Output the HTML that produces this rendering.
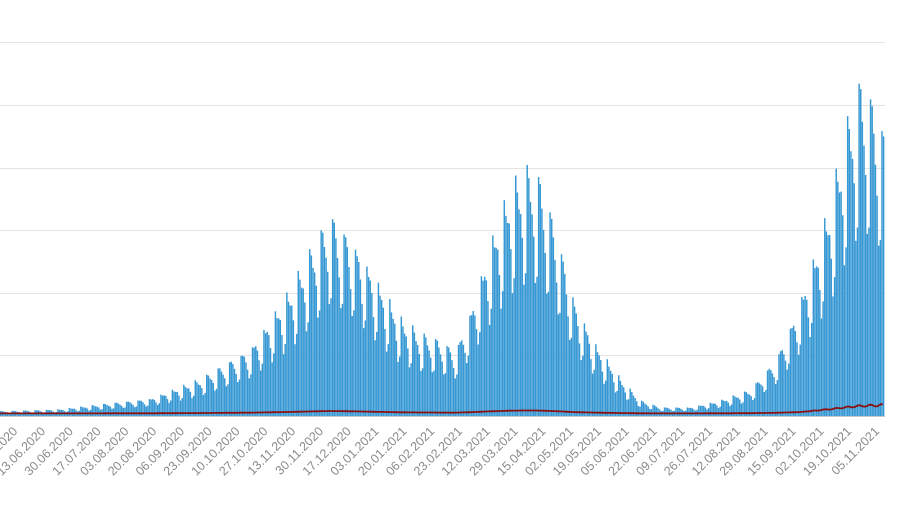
<!DOCTYPE html>
<html><head><meta charset="utf-8"><style>
html,body{margin:0;padding:0;background:#fff;}
svg{display:block;}
text{font-family:"Liberation Sans",sans-serif;font-size:12.5px;fill:#8a8a8a;}
</style></head><body>
<svg id="c" width="900" height="505" viewBox="0 0 900 505" xmlns="http://www.w3.org/2000/svg">
<g id="grid" stroke="#e3e3e3" stroke-width="1"></g>
<g id="bars" fill="#3597d3"></g>
<polyline id="red" fill="none" stroke="#8b1010" stroke-width="1.8"/>
<line x1="0" y1="416.5" x2="885" y2="416.5" stroke="#c9c9c9"/>
<g id="labels"></g>
</svg>
<script>
var ns="http://www.w3.org/2000/svg";
function el(t,a,p){var e=document.createElementNS(ns,t);for(var k in a)e.setAttribute(k,a[k]);p.appendChild(e);return e;}
var g=document.getElementById("grid");
[42,105,168,230,293,355].forEach(function(y){el("line",{x1:0,x2:885,y1:y+.5,y2:y+.5},g);});
var env=[[0,5],[60,7],[100,12],[150,18],[200,38],[250,70],[290,130],[315,180],[330,208],[350,185],[375,142],[400,100],[420,85],[440,78],[455,68],[470,108],[490,178],[510,235],[527,254],[540,244],[555,195],[575,115],[595,74],[620,38],[640,16],[660,9],[690,9],[720,16],[750,27],[775,58],[795,105],[815,168],[830,220],[845,295],[860,345],[870,330],[884,295]];
function E(x){for(var i=1;i<env.length;i++){if(x<=env[i][0]){var a=env[i-1],b=env[i];return a[1]+(b[1]-a[1])*(x-a[0])/(b[0]-a[0]);}}return env[env.length-1][1];}
var f=[1,0.95,0.9,0.84,0.72,0.55,0.6];
var b=document.getElementById("bars");var pts=[];
var step=1.635;
for(var d=0;;d++){var x=d*step;if(x>884)break;
 var h=E(x)*f[d%7]*(0.97+0.03*Math.sin(d*1.7));if(h<1.5)h=1.5;
 el("rect",{x:x.toFixed(2),y:(416-h).toFixed(2),width:1.45,height:h.toFixed(2)},b);
 var r=1.5+E(x)*0.012+(x>800?(x-800)*0.07:0)*(0.8+0.2*Math.sin(d*0.9));
 pts.push(x.toFixed(1)+","+(415-r).toFixed(1));}
document.getElementById("red").setAttribute("points",pts.join(" "));
var L=["10.05.2020","27.05.2020","13.06.2020","30.06.2020","17.07.2020","03.08.2020","20.08.2020","06.09.2020","23.09.2020","10.10.2020","27.10.2020","13.11.2020","30.11.2020","17.12.2020","03.01.2021","20.01.2021","06.02.2021","23.02.2021","12.03.2021","29.03.2021","15.04.2021","02.05.2021","19.05.2021","05.06.2021","22.06.2021","09.07.2021","26.07.2021","12.08.2021","29.08.2021","15.09.2021","02.10.2021","19.10.2021","05.11.2021"];
var lg=document.getElementById("labels");
L.forEach(function(s,i){var x=46+27.8*(i-2);var t=el("text",{x:0,y:0,"text-anchor":"end",transform:"translate("+x.toFixed(1)+",432) rotate(-45)"},lg);t.textContent=s;});
</script>
</body></html>
